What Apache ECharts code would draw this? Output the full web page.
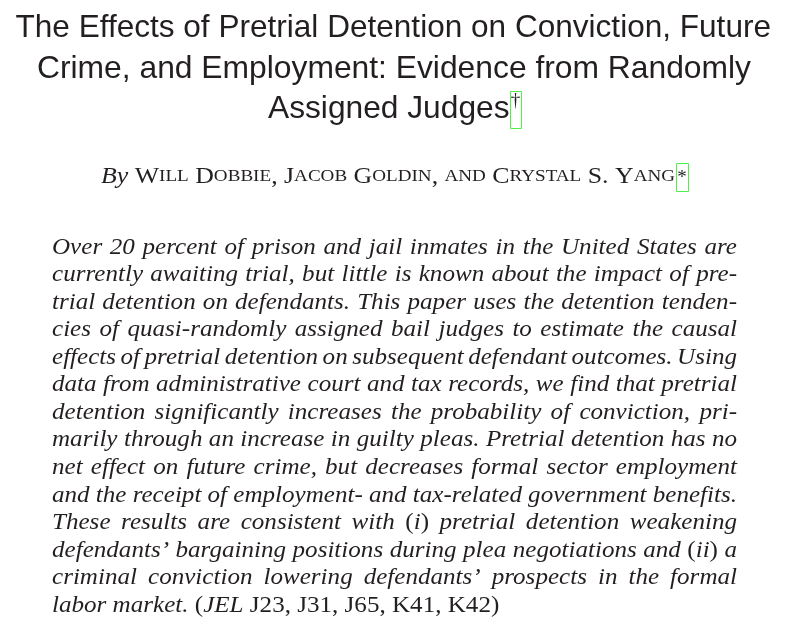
<!DOCTYPE html>
<html>
<head>
<meta charset="utf-8">
<script src="https://cdn.jsdelivr.net/npm/echarts@6/dist/echarts.min.js"></script>
<style>
  html, body { margin: 0; padding: 0; background: #fff; }
  #main { width: 809px; height: 640px; }
</style>
</head>
<body>
<div id="main"></div>
<script>
// page text
var TITLE_LINES = [
  "The Effects of Pretrial Detention on Conviction, Future",
  "Crime, and Employment: Evidence from Randomly",
  "Assigned Judges"
];
var TITLE_MARK = "\u2020";
var BYLINE_LEAD = "By";
var AUTHORS = ["Will Dobbie", "Jacob Goldin", "Crystal S. Yang"];
var AUTHOR_MARK = "*";
// [ ... ] marks upright (roman) text inside the italic abstract
var ABSTRACT_LINES = [
  "Over 20 percent of prison and jail inmates in the United States are",
  "currently awaiting trial, but little is known about the impact of pre-",
  "trial detention on defendants. This paper uses the detention tenden-",
  "cies of quasi-randomly assigned bail judges to estimate the causal",
  "effects of pretrial detention on subsequent defendant outcomes. Using",
  "data from administrative court and tax records, we find that pretrial",
  "detention significantly increases the probability of conviction, pri-",
  "marily through an increase in guilty pleas. Pretrial detention has no",
  "net effect on future crime, but decreases formal sector employment",
  "and the receipt of employment- and tax-related government benefits.",
  "These results are consistent with [(]i[)] pretrial detention weakening",
  "defendants\u2019 bargaining positions during plea negotiations and [(]ii[)] a",
  "criminal conviction lowering defendants\u2019 prospects in the formal",
  "labor market. [(]JEL [J23, J31, J65, K41, K42)]"
];

var INK = "#231f20";
var LINK = "#4df04d";
var MID = 0.32; // canvas 'middle' sits about this many em above the baseline

var ctx = document.createElement("canvas").getContext("2d");
var measure = function(text, font) {
  ctx.font = font;
  return ctx.measureText(text).width;
};
var textEl = function(text, font, x, baseline, size, scaleX, align) {
  return {
    type: "text",
    x: x,
    y: baseline - MID * size,
    scaleX: scaleX || 1,
    silent: true,
    style: {
      text: text,
      font: font,
      fill: INK,
      textAlign: align || "left",
      textVerticalAlign: "middle"
    }
  };
};

var elements = [];

// title, each line fitted to its span
var titleSize = 32;
var titleFont = titleSize + "px 'Liberation Sans'";
var titleSpans = [[15.5, 771], [37, 751], [268, 509.5]];
var titleBase = [38, 79, 119];
TITLE_LINES.forEach((t, i) => {
  var w = measure(t, titleFont);
  var span = titleSpans[i];
  elements.push(textEl(t, titleFont, span[0], titleBase[i], titleSize, (span[1] - span[0]) / w));
});
elements.push(textEl(TITLE_MARK, "19px 'Liberation Serif'", 515.5, 107, 19, 1, "center"));
elements.push({
  type: "rect", silent: true,
  shape: { x: 510.5, y: 91.5, width: 11, height: 37 },
  style: { fill: null, stroke: LINK, lineWidth: 1 }
});

// byline in small caps
var bigSize = 23, smallSize = 17;
var bigFont = bigSize + "px 'Liberation Serif'";
var smallFont = smallSize + "px 'Liberation Serif'";
var names = AUTHORS[0] + ", " + AUTHORS[1] + ", and " + AUTHORS[2];
var runs = [{ t: BYLINE_LEAD, font: "italic " + bigFont, size: bigSize }, { t: " ", font: bigFont, size: bigSize }];
names.split("").forEach(ch => {
  var small = ch >= "a" && ch <= "z";
  var font = small ? smallFont : bigFont;
  var last = runs[runs.length - 1];
  if (last.font === font) {
    last.t += small ? ch.toUpperCase() : ch;
  } else {
    runs.push({ t: small ? ch.toUpperCase() : ch, font: font, size: small ? smallSize : bigSize });
  }
});
var byWidth = 0;
runs.forEach(r => { r.w = measure(r.t, r.font); byWidth += r.w; });
var byLeft = 101, byRight = 675, byBase = 184;
var byScale = (byRight - byLeft) / byWidth;
var cx = byLeft;
runs.forEach(r => {
  elements.push(textEl(r.t, r.font, cx, byBase, bigSize, byScale));
  cx += r.w * byScale;
});
elements.push(textEl(AUTHOR_MARK, "19px 'Liberation Serif'", 682, 184, 19, 1, "center"));
elements.push({
  type: "rect", silent: true,
  shape: { x: 676.5, y: 163.5, width: 12, height: 28 },
  style: { fill: null, stroke: LINK, lineWidth: 1 }
});

// abstract, justified between left and right
var absSize = 24;
var itFont = "italic " + absSize + "px 'Liberation Serif'";
var upFont = absSize + "px 'Liberation Serif'";
var absLeft = 52, absRight = 737, absBase0 = 255, absLead = 27.55;
var minGap = 4.5;

var parseLine = function(line) {
  var words = [];
  var word = [];
  var up = false;
  var push = ch => {
    var font = up ? upFont : itFont;
    var last = word[word.length - 1];
    if (last && last.font === font) last.t += ch;
    else word.push({ t: ch, font: font });
  };
  line.split("").forEach(ch => {
    if (ch === "[") up = true;
    else if (ch === "]") up = false;
    else if (ch === " ") {
      if (word.length) words.push(word);
      word = [];
    } else push(ch);
  });
  if (word.length) words.push(word);
  words.forEach(wd => {
    wd.w = 0;
    wd.forEach(r => { r.w = measure(r.t, r.font); wd.w += r.w; });
  });
  return words;
};

var parsed = ABSTRACT_LINES.map(parseLine);
var absScale = Infinity;
parsed.forEach((words, i) => {
  if (i === parsed.length - 1) return;
  var sum = words.reduce((a, wd) => a + wd.w, 0);
  var s = (absRight - absLeft - (words.length - 1) * minGap) / sum;
  if (s < absScale) absScale = s;
});
var spaceW = measure(" ", itFont) * absScale;

parsed.forEach((words, i) => {
  var base = absBase0 + i * absLead;
  var sum = words.reduce((a, wd) => a + wd.w, 0) * absScale;
  var last = i === parsed.length - 1;
  var gap = last ? spaceW : (absRight - absLeft - sum) / (words.length - 1);
  var x = absLeft;
  words.forEach(wd => {
    var rx = x;
    wd.forEach(r => {
      elements.push(textEl(r.t, r.font, rx, base, absSize, absScale));
      rx += r.w * absScale;
    });
    x += wd.w * absScale + gap;
  });
});

var myChart = echarts.init(document.getElementById("main"), null, { renderer: "canvas" });
var option = {
  backgroundColor: "#ffffff",
  animation: false,
  graphic: { elements: elements }
};
myChart.setOption(option);
</script>
</body>
</html>
